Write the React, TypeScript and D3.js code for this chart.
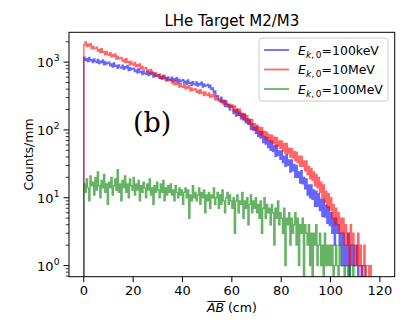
import React, { useEffect, useRef } from 'react';
import * as d3 from 'd3';

// histogram bins: 0..120 cm, 0.5 cm wide
const BIN_WIDTH = 0.5;
const xTicks = [0, 20, 40, 60, 80, 100, 120];
const yTicks = [1, 10, 100, 1000];
const seriesLabels = ['100keV', '10MeV', '100MeV'];
const seriesColors = ['#0000ff', '#ff0000', '#008000'];

const blueCounts = [
  1187, 1056, 1127, 1020, 1177, 1050, 1086, 982, 1113, 1031,
  989, 1094, 953, 1036, 988, 1080, 914, 1014, 938, 970,
  996, 884, 940, 849, 976, 869, 896, 808, 912, 843,
  816, 902, 787, 855, 815, 891, 753, 835, 773, 798,
  816, 724, 769, 694, 797, 709, 730, 658, 742, 686,
  662, 731, 636, 690, 656, 716, 605, 669, 618, 636,
  652, 580, 617, 558, 643, 572, 591, 534, 604, 559,
  542, 600, 523, 569, 542, 592, 500, 555, 513, 530,
  551, 490, 522, 472, 544, 486, 502, 454, 513, 475,
  461, 510, 445, 484, 462, 505, 428, 475, 439, 455,
  467, 422, 456, 395, 416, 349, 375, 314, 319, 271,
  262, 303, 252, 275, 221, 267, 221, 235, 196, 227,
  220, 174, 195, 160, 200, 165, 182, 146, 172, 140,
  170, 128, 146, 121, 143, 101, 124, 99, 110, 89,
  112, 80, 95, 76, 95, 65, 80, 62, 77, 55,
  70, 50, 68, 48, 58, 41, 59, 42, 49, 37,
  49, 33, 41, 29, 43, 30, 36, 24, 36, 25,
  31, 20, 30, 20, 24, 16.5, 25, 16, 20, 13.6,
  19, 11, 15.5, 10, 15.5, 9.5, 13, 7.5, 12.5, 7.5,
  11.5, 6.5, 9.5, 5.3, 9.5, 5.2, 7.8, 4.2, 7.3, 3.9,
  6, 3, 5, 2, 5, 3, 4, 2, 3, 1,
  3, 1, 2, 1, 3, 0, 2, 1, 2, 1,
  1, 2, 0, 1, 1, 0, 1, 1, 0, 0,
  0, 0, 0, 0, 0, 0, 0, 0, 0, 0,
];

const redCounts = [
  1805, 1977, 1707, 1838, 1734, 1875, 1570, 1722, 1575, 1608,
  1654, 1458, 1541, 1382, 1579, 1395, 1427, 1278, 1432, 1313,
  1258, 1381, 1196, 1291, 1222, 1325, 1113, 1225, 1124, 1151,
  1177, 1038, 1099, 986, 1126, 996, 1020, 914, 1026, 941,
  902, 989, 854, 920, 869, 940, 788, 864, 792, 808,
  827, 728, 766, 685, 780, 687, 701, 625, 698, 637,
  610, 668, 576, 620, 585, 632, 529, 580, 530, 540,
  557, 491, 518, 465, 531, 469, 480, 430, 481, 441,
  424, 467, 404, 437, 414, 450, 379, 417, 383, 394,
  407, 360, 381, 343, 393, 349, 359, 322, 362, 333,
  322, 352, 304, 327, 308, 332, 278, 305, 278, 284,
  292, 256, 268, 239, 271, 239, 242, 215, 239, 218,
  234, 190, 226, 182, 202, 164, 202, 161, 177, 144,
  171, 135, 162, 123, 143, 120, 143, 103, 124, 99,
  119, 91, 110, 83, 108, 82, 95, 72, 93, 72,
  85, 65, 84, 63, 78, 57, 77, 58, 69, 53,
  69, 49, 63, 45, 63, 45, 54, 40, 53, 39,
  48, 35, 47, 33, 41, 29, 41, 29, 35, 25,
  35, 22, 29, 19, 27, 18, 24, 15, 22, 14,
  20, 12, 17, 10, 15.5, 8.5, 12.5, 7.2, 11.5, 6.6,
  10, 5, 8, 4, 7, 4, 6, 3, 5, 3,
  5, 2, 4, 2, 3, 1, 4, 2, 3, 1,
  2, 1, 3, 1, 2, 0, 1, 2, 0, 1,
  1, 0, 1, 0, 0, 0, 0, 0, 0, 0,
];

const greenCounts = [
  16, 12, 19, 14, 9, 21, 15, 17, 11, 20,
  13, 24, 15, 10, 18, 14, 22, 12, 16, 8,
  17, 14, 20, 11, 15, 19, 13, 26, 12, 16,
  9, 18, 14, 21, 12, 16, 10, 19, 15, 13,
  20, 11, 16, 13, 18, 9, 15, 12, 17, 14,
  10, 16, 13, 19, 11, 14, 8, 15, 12, 17,
  13, 10, 16, 12, 18, 9, 14, 11, 15, 12,
  16, 11, 13, 9, 15, 12, 10, 14, 11, 13,
  8, 12, 14, 10, 13, 5, 11, 9, 15, 10,
  12, 9, 11, 14, 8, 12, 10, 13, 6, 11,
  9, 12, 7, 11, 10, 14, 8, 10, 12, 7,
  11, 8, 13, 9, 6, 10, 12, 8, 11, 9,
  7, 10, 3, 9, 11, 6, 9, 8, 12, 5,
  9, 7, 10, 4, 8, 11, 6, 9, 7, 10,
  6, 8, 5, 9, 3, 7, 10, 5, 8, 6,
  7, 4, 8, 6, 2, 7, 5, 9, 4, 6,
  5, 3, 7, 1, 5, 4, 6, 2, 5, 3,
  4, 6, 2, 5, 1, 4, 3, 5, 0, 4,
  3, 2, 4, 1, 3, 0, 3, 2, 4, 1,
  2, 3, 1, 2, 0, 3, 1, 2, 1, 2,
  1, 2, 0, 1, 2, 1, 0, 2, 1, 1,
  1, 0, 1, 1, 0, 1, 0, 0, 1, 0,
  0, 0, 0, 0, 0, 0, 0, 0, 0, 0,
  0, 0, 0, 0, 0, 0, 0, 0, 0, 0,
];

const W = 407;
const H = 326;
const FONT = 'DejaVu Sans, sans-serif';

const App = () => {
  const ref = useRef<SVGSVGElement>(null);

  useEffect(() => {
    const svg = d3.select(ref.current);
    svg.selectAll('*').remove();

    const left = 69, right = 394.7, top = 32.3, bottom = 276.7;
    const x = d3.scaleLinear().domain([-6, 126]).range([left, right]);
    const y = d3.scaleLog().domain([Math.pow(10, -0.164), Math.pow(10, 3.44)]).range([bottom, top]);

    svg.append('defs').append('clipPath').attr('id', 'plotclip')
      .append('rect')
      .attr('x', left).attr('y', top)
      .attr('width', right - left).attr('height', bottom - top);

    const yv = (v: number) => (v > 0 ? y(v) : bottom + 200);
    const line = d3.line<[number, number]>().x((d) => x(d[0])).y((d) => yv(d[1]));

    const hist = svg.append('g').attr('clip-path', 'url(#plotclip)');
    [blueCounts, redCounts, greenCounts].forEach((counts, k) => {
      const pts: [number, number][] = [[0, 0]];
      counts.forEach((c, i) => {
        pts.push([i * BIN_WIDTH, c]);
        pts.push([(i + 1) * BIN_WIDTH, c]);
      });
      pts.push([counts.length * BIN_WIDTH, 0]);
      hist.append('path')
        .attr('d', line(pts))
        .attr('fill', 'none')
        .attr('stroke', seriesColors[k])
        .attr('stroke-opacity', 0.6)
        .attr('stroke-width', 1.4)
        .attr('stroke-linejoin', 'miter');
    });

    // frame
    svg.append('rect')
      .attr('x', left).attr('y', top)
      .attr('width', right - left).attr('height', bottom - top)
      .attr('fill', 'none').attr('stroke', '#000').attr('stroke-width', 1);

    // x ticks
    const gx = svg.append('g');
    xTicks.forEach((t) => {
      gx.append('line')
        .attr('x1', x(t)).attr('x2', x(t))
        .attr('y1', bottom).attr('y2', bottom + 5.5)
        .attr('stroke', '#000').attr('stroke-width', 1);
      gx.append('text')
        .attr('x', x(t)).attr('y', bottom + 18.5)
        .attr('text-anchor', 'middle')
        .attr('font-family', FONT).attr('font-size', 13)
        .text(t);
    });

    // y ticks (log)
    const gy = svg.append('g');
    const [d0, d1] = y.domain();
    for (let e = -1; e <= 3; e++) {
      for (let m = 1; m <= 9; m++) {
        const v = m * Math.pow(10, e);
        if (v < d0 || v > d1) continue;
        const major = m === 1;
        gy.append('line')
          .attr('x1', left).attr('x2', left - (major ? 5.5 : 3.2))
          .attr('y1', y(v)).attr('y2', y(v))
          .attr('stroke', '#000').attr('stroke-width', major ? 1 : 0.8);
      }
    }
    yTicks.forEach((t) => {
      const lab = gy.append('text')
        .attr('x', left - 9.5).attr('y', y(t) + 5)
        .attr('text-anchor', 'end')
        .attr('font-family', FONT).attr('font-size', 13);
      lab.append('tspan').text('10');
      lab.append('tspan').attr('dy', -6).attr('font-size', 9.2).text(String(Math.round(Math.log10(t))));
    });

    // title
    svg.append('text')
      .attr('x', (left + right) / 2).attr('y', 26)
      .attr('text-anchor', 'middle')
      .attr('font-family', FONT).attr('font-size', 15)
      .text('LHe Target M2/M3');

    // y label
    svg.append('text')
      .attr('transform', `translate(33,${(top + bottom) / 2}) rotate(-90)`)
      .attr('text-anchor', 'middle')
      .attr('font-family', FONT).attr('font-size', 12.5)
      .text('Counts/mm');

    // x label with overline on AB
    const xl = svg.append('text')
      .attr('x', (left + right) / 2).attr('y', 312)
      .attr('text-anchor', 'middle')
      .attr('font-family', FONT).attr('font-size', 12.5);
    const ab = xl.append('tspan').attr('font-style', 'italic').text('AB');
    xl.append('tspan').text(' (cm)');
    const total = (xl.node() as SVGTextElement).getComputedTextLength();
    const abw = (ab.node() as SVGTSpanElement).getComputedTextLength();
    const x0 = (left + right) / 2 - total / 2;
    svg.append('line')
      .attr('x1', x0 + 0.5).attr('x2', x0 + abw + 1.5)
      .attr('y1', 301.5).attr('y2', 301.5)
      .attr('stroke', '#000').attr('stroke-width', 0.9);

    // (b)
    svg.append('text')
      .attr('x', 133).attr('y', 131.5)
      .attr('font-family', 'DejaVu Serif, serif').attr('font-size', 27)
      .text('(b)');

    // legend
    const lg = svg.append('g');
    lg.append('rect')
      .attr('x', 259).attr('y', 38)
      .attr('width', 129).attr('height', 63)
      .attr('rx', 3).attr('ry', 3)
      .attr('fill', '#fff').attr('fill-opacity', 0.8)
      .attr('stroke', '#cccccc').attr('stroke-width', 1);
    seriesLabels.forEach((lab, k) => {
      const cy = 50 + k * 19.5;
      lg.append('line')
        .attr('x1', 264).attr('x2', 289)
        .attr('y1', cy).attr('y2', cy)
        .attr('stroke', seriesColors[k]).attr('stroke-opacity', 0.6)
        .attr('stroke-width', 1.8);
      const t = lg.append('text')
        .attr('x', 298).attr('y', cy + 4.5)
        .attr('font-family', FONT).attr('font-size', 12.5);
      t.append('tspan').attr('font-style', 'italic').text('E');
      const sub = t.append('tspan').attr('dy', 3).attr('font-size', 9);
      sub.append('tspan').attr('font-style', 'italic').text('k');
      sub.append('tspan').text(',\u20090');
      t.append('tspan').attr('dy', -3).text('=' + lab);
    });
  }, []);

  return (
    <svg
      ref={ref}
      width={W}
      height={H}
      style={{ position: 'absolute', left: 0, top: 0, background: '#fff' }}
    />
  );
};

export default App;
